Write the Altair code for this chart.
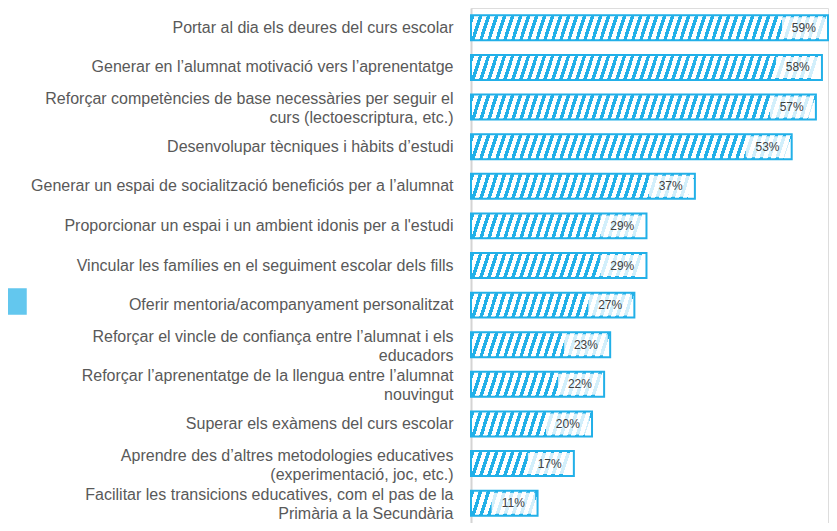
import altair as alt
import pandas as pd

categories = [
    "Portar al dia els deures del curs escolar",
    "Generar en l’alumnat motivació vers l’aprenentatge",
    "Reforçar competències de base necessàries per seguir el\ncurs (lectoescriptura, etc.)",
    "Desenvolupar tècniques i hàbits d’estudi ",
    "Generar un espai de socialització beneficiós per a l’alumnat",
    "Proporcionar un espai i un ambient idonis per a l'estudi",
    "Vincular les famílies en el seguiment escolar dels fills",
    "Oferir mentoria/acompanyament personalitzat",
    "Reforçar el vincle de confiança entre l’alumnat i els\neducadors",
    "Reforçar l’aprenentatge de la llengua entre l’alumnat\nnouvingut",
    "Superar els exàmens del curs escolar",
    "Aprendre des d’altres metodologies educatives\n(experimentació, joc, etc.)",
    "Facilitar les transicions educatives, com el pas de la\nPrimària a la Secundària",
]
values = [59, 58, 57, 53, 37, 29, 29, 27, 23, 22, 20, 17, 11]

BLUE = "#22b0e8"
W_PLOT = 357
H_PLOT = 515
XMAX = 59
BAR_H = 25
PERIOD = 8.0
SLANT = 8.0
BLUE_FRAC = 0.45

df = pd.DataFrame({"cat": categories, "val": values})
df["lab"] = df["val"].astype(str) + "%"

y_enc = alt.Y(
    "cat:N",
    sort=categories,
    scale=alt.Scale(paddingInner=0.37, paddingOuter=0.185),
    axis=alt.Axis(
        title=None,
        labelExpr="split(datum.label, '\\n')",
        labelFont="Liberation Sans",
        labelFontSize=16,
        labelColor="#595959",
        labelLineHeight=19,
        labelPadding=18,
        labelLimit=600,
        labelOffset={
            "condition": {"test": "indexof(datum.value, '\\n') >= 0", "value": -8},
            "value": 0,
        },
        ticks=False,
        domainColor="#d4d4d4",
        domainWidth=2,
        labelBaseline="middle",
    ),
)
x_scale = alt.Scale(domain=[0, XMAX], nice=False, zero=True)


def hatch(value):
    w = value / XMAX * W_PLOT
    vy = SLANT / w * (BAR_H / 25.0)
    p = (PERIOD / w) / (1 + vy * vy)
    stops = []
    k = 0
    while k * p < 1:
        a = k * p
        b = min(1.0, a + BLUE_FRAC * p)
        c = min(1.0, (k + 1) * p)
        stops.append({"offset": a, "color": BLUE})
        stops.append({"offset": b, "color": BLUE})
        stops.append({"offset": b, "color": "#ffffff"})
        stops.append({"offset": c, "color": "#ffffff"})
        k += 1
    return {"gradient": "linear", "x1": 0, "y1": 0, "x2": 1, "y2": vy, "stops": stops}


base = alt.Chart(df)
layers = []
for c, v in zip(categories, values):
    layers.append(
        base.transform_filter(alt.datum.cat == c)
        .mark_bar(fill=hatch(v), stroke=BLUE, strokeWidth=2)
        .encode(x=alt.X("val:Q", scale=x_scale, axis=None), y=y_enc)
    )

box = (
    base.transform_calculate(x0="datum.val - 7.6", x1="datum.val - 0.4")
    .mark_bar(color="#ffffff", opacity=0.8, height=21)
    .encode(x=alt.X("x0:Q", scale=x_scale, axis=None), x2="x1:Q", y=y_enc)
)
text = (
    base.transform_calculate(xm="datum.val - 4.0")
    .mark_text(font="Liberation Sans", fontSize=12, color="#404040", baseline="middle", align="center")
    .encode(x=alt.X("xm:Q", scale=x_scale, axis=None), y=y_enc, text="lab:N")
)
swatch = (
    base.transform_calculate(key="'s'")
    .mark_square(opacity=0)
    .encode(
        x=alt.X("val:Q", scale=x_scale, axis=None),
        y=y_enc,
        fill=alt.Fill(
            "key:N",
            scale=alt.Scale(range=[BLUE]),
            legend=alt.Legend(
                orient="none",
                legendX=-471,
                legendY=280,
                title=None,
                labelExpr="''",
                symbolType="square",
                symbolSize=625,
                symbolOpacity=0.7,
                symbolStrokeColor=BLUE,
                symbolStrokeWidth=1.5,
                padding=0,
                labelFontSize=1,
            ),
        ),
    )
)

chart = (
    alt.layer(*layers, box, text, swatch)
    .properties(
        width=W_PLOT,
        height=H_PLOT,
        autosize=alt.AutoSizeParams(type="none"),
        padding={"left": 463, "top": 0, "right": 1, "bottom": 0},
    )
    .configure_view(stroke=None)
    .configure(background="white")
)

chart.save("out.html", embed_options={"renderer": "svg", "actions": False})
